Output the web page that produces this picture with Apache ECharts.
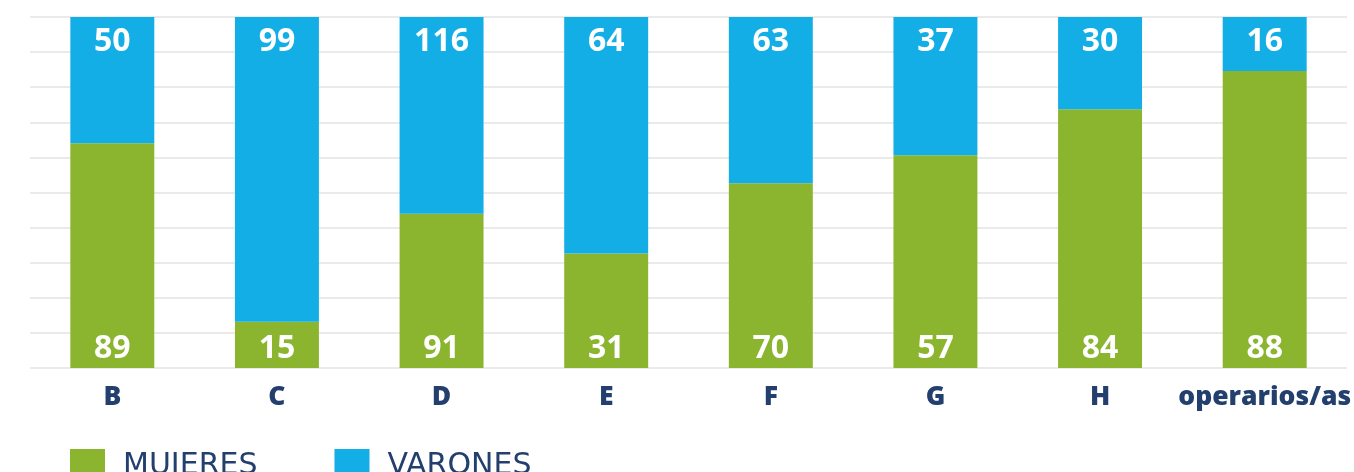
<!DOCTYPE html>
<html>
<head>
<meta charset="utf-8">
<script src="https://cdn.jsdelivr.net/npm/echarts@6/dist/echarts.min.js"></script>
<style>html,body{margin:0;padding:0;background:#fff}#c{width:1354px;height:472px}</style>
</head>
<body>
<div id="c"></div>
<script>
const categories = ['B', 'C', 'D', 'E', 'F', 'G', 'H', 'operarios/as'];
const mujeres = [89, 15, 91, 31, 70, 57, 84, 88];
const varones = [50, 99, 116, 64, 63, 37, 30, 16];
const seriesNames = ['MUJERES', 'VARONES'];

const pct = (a, b) => a.map((v, i) => v / (a[i] + b[i]) * 100);
const mujeresPct = pct(mujeres, varones);
const varonesPct = pct(varones, mujeres);

const GREEN = '#8bb52e';
const BLUE = '#12aee5';
const NAVY = '#233f6e';

const chart = echarts.init(document.getElementById('c'), null, {renderer: 'canvas'});
chart.setOption({
  animation: false,
  grid: {left: 30, right: 7, top: 17, bottom: 104, containLabel: false, outerBoundsMode: 'none'},
  legend: {
    left: 65, top: 444,
    itemWidth: 35, itemHeight: 35, itemGap: 77,
    icon: 'rect',
    selectedMode: false,
    textStyle: {fontFamily: 'DejaVu Sans', fontSize: 30, color: NAVY, padding: [0, 0, 7, 13]},
    data: seriesNames
  },
  xAxis: {
    type: 'category', data: categories,
    axisLine: {show: false}, axisTick: {show: false},
    axisLabel: {interval: 0, fontFamily: 'Open Sans', fontWeight: 800, fontSize: 26.5, color: NAVY, margin: 16}
  },
  yAxis: {
    type: 'value', min: 0, max: 100, interval: 10,
    axisLabel: {show: false}, axisLine: {show: false}, axisTick: {show: false},
    splitLine: {lineStyle: {color: '#e3e3e3', width: 1.5}}
  },
  series: [
    {
      name: seriesNames[0], type: 'bar', stack: 's', barWidth: '51%',
      itemStyle: {color: GREEN},
      data: mujeresPct,
      label: {show: true, position: 'insideBottom', distance: 3,
        fontFamily: 'Open Sans', fontWeight: 'bold', fontSize: 32, color: '#fff',
        formatter: p => mujeres[p.dataIndex]}
    },
    {
      name: seriesNames[1], type: 'bar', stack: 's', barWidth: '51%',
      itemStyle: {color: BLUE},
      data: varonesPct,
      label: {show: true, position: 'insideTop', distance: 9,
        fontFamily: 'Open Sans', fontWeight: 'bold', fontSize: 32, color: '#fff',
        formatter: p => varones[p.dataIndex]}
    }
  ]
});
</script>
</body>
</html>
